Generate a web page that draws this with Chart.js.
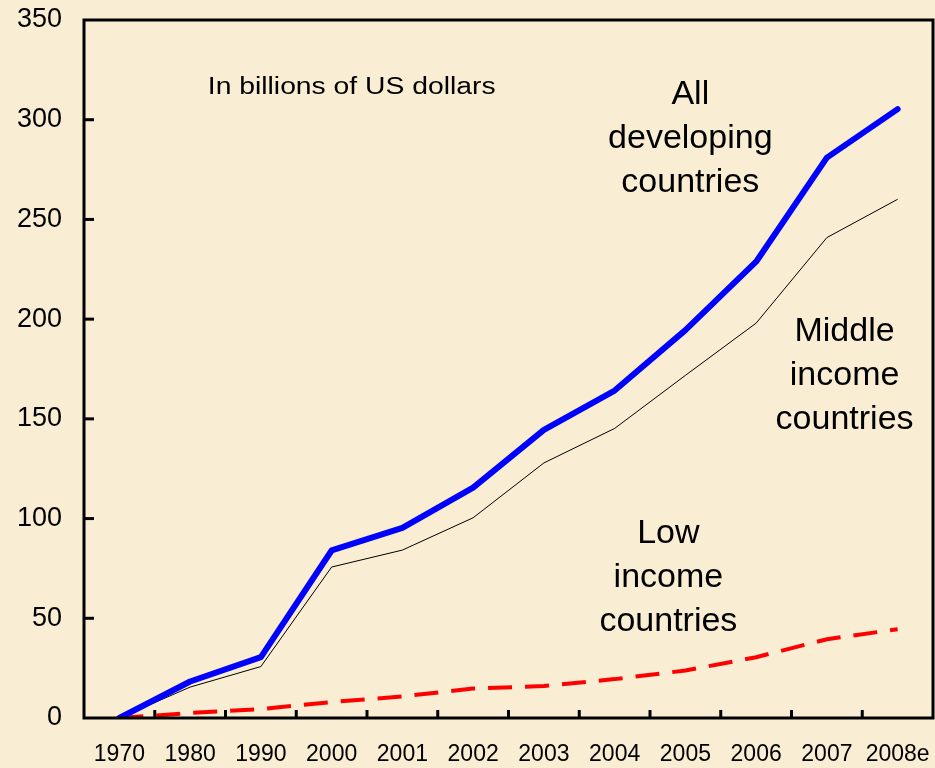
<!DOCTYPE html>
<html>
<head>
<meta charset="utf-8">
<script src="https://cdn.jsdelivr.net/npm/chart.js@4/dist/chart.umd.min.js"></script>
<style>
  html, body { margin: 0; padding: 0; background: #F9EDD3; }
  #wrap { width: 935px; height: 768px; position: relative; }
</style>
</head>
<body>
<div id="wrap"><canvas id="c" width="935" height="768"></canvas></div>
<script>
// ---- data ----
const categories = ['1970','1980','1990','2000','2001','2002','2003','2004','2005','2006','2007','2008e'];
const allDeveloping = [0, 18.3, 30.5, 84, 95.3, 115.5, 144.5, 164.2, 194.5, 228.8, 281, 305.3];
const middleIncome  = [0, 15.5, 25.8, 75.7, 84.2, 100.4, 127.9, 145.2, 171.8, 198, 240.9, 260.1];
const lowIncome     = [0, 2.5, 4.5, 8, 10.8, 14.8, 16, 19.5, 23.8, 30.5, 39.5, 44.5];
const yTicks = [0, 50, 100, 150, 200, 250, 300, 350];

// text labels placed in data coordinates (category index, value at first baseline)
const unitNote = { text: 'In billions of US dollars', x: 1.25, y: 313, align: 'left', size: 23, stretch: 1.23 };
const seriesNotes = [
  { lines: ['All', 'developing', 'countries'], x: 8.07, y: 308, size: 34 },
  { lines: ['Middle', 'income', 'countries'], x: 10.25, y: 189, size: 34 },
  { lines: ['Low', 'income', 'countries'], x: 7.76, y: 88, size: 34 }
];
const lineGapPx = 44;

const FONT = '"Liberation Sans", Arial, sans-serif';

const framePlugin = {
  id: 'frame',
  afterDatasetsDraw(chart) {
    const { ctx, chartArea: a, scales: { x, y } } = chart;
    ctx.save();
    ctx.strokeStyle = '#000';
    ctx.lineWidth = 3;
    yTicks.forEach(v => {
      if (v === 0 || v === 350) return;
      const py = y.getPixelForValue(v);
      ctx.beginPath(); ctx.moveTo(a.left, py); ctx.lineTo(a.left + 10, py); ctx.stroke();
    });
    const n = categories.length;
    for (let i = 1; i < n; i++) {
      const px = (x.getPixelForValue(i - 1) + x.getPixelForValue(i)) / 2;
      ctx.beginPath(); ctx.moveTo(px, a.bottom); ctx.lineTo(px, a.bottom - 8); ctx.stroke();
    }
    ctx.strokeRect(a.left, a.top, a.right - a.left, a.bottom - a.top);

    ctx.fillStyle = '#000';
    ctx.textBaseline = 'alphabetic';
    const step = x.getPixelForValue(1) - x.getPixelForValue(0);
    ctx.font = unitNote.size + 'px ' + FONT;
    ctx.textAlign = 'left';
    ctx.save();
    ctx.translate(x.getPixelForValue(0) + unitNote.x * step, y.getPixelForValue(unitNote.y));
    ctx.scale(unitNote.stretch, 1);
    ctx.fillText(unitNote.text, 0, 0);
    ctx.restore();

    seriesNotes.forEach(nt => {
      ctx.font = nt.size + 'px ' + FONT;
      ctx.textAlign = 'center';
      const cx = x.getPixelForValue(0) + nt.x * step;
      const by = y.getPixelForValue(nt.y);
      nt.lines.forEach((ln, k) => ctx.fillText(ln, cx, by + k * lineGapPx));
    });
    ctx.restore();
  }
};

new Chart(document.getElementById('c'), {
  type: 'line',
  data: {
    labels: categories,
    datasets: [
      { label: 'All developing countries', data: allDeveloping, borderColor: '#0000FF', borderWidth: 6,
        borderCapStyle: 'round', borderJoinStyle: 'round', pointRadius: 0, tension: 0, order: 0 },
      { label: 'Middle income countries', data: middleIncome, borderColor: '#000000', borderWidth: 1,
        pointRadius: 0, tension: 0, order: 2 },
      { label: 'Low income countries', data: lowIncome, borderColor: '#FF0000', borderWidth: 4,
        borderDash: [24, 13], pointRadius: 0, tension: 0, order: 1 }
    ]
  },
  options: {
    responsive: false,
    animation: false,
    layout: { padding: { top: 20, right: 2, left: 0, bottom: 0 } },
    plugins: { legend: { display: false }, tooltip: { enabled: false } },
    scales: {
      x: {
        offset: true,
        grid: { display: false, drawTicks: false },
        border: { display: false },
        ticks: { color: '#000', font: { family: FONT, size: 23 }, padding: 23, maxRotation: 0, autoSkip: false },
        afterFit(s) { s.height = 50; s.paddingLeft = 0; s.paddingRight = 0; }
      },
      y: {
        min: 0, max: 350,
        grid: { display: false, drawTicks: false },
        border: { display: false },
        ticks: { stepSize: 50, color: '#000', font: { family: FONT, size: 27 }, padding: 22 },
        afterFit(s) { s.width = 84; s.paddingTop = 0; s.paddingBottom = 0; }
      }
    }
  },
  plugins: [framePlugin]
});
</script>
</body>
</html>
